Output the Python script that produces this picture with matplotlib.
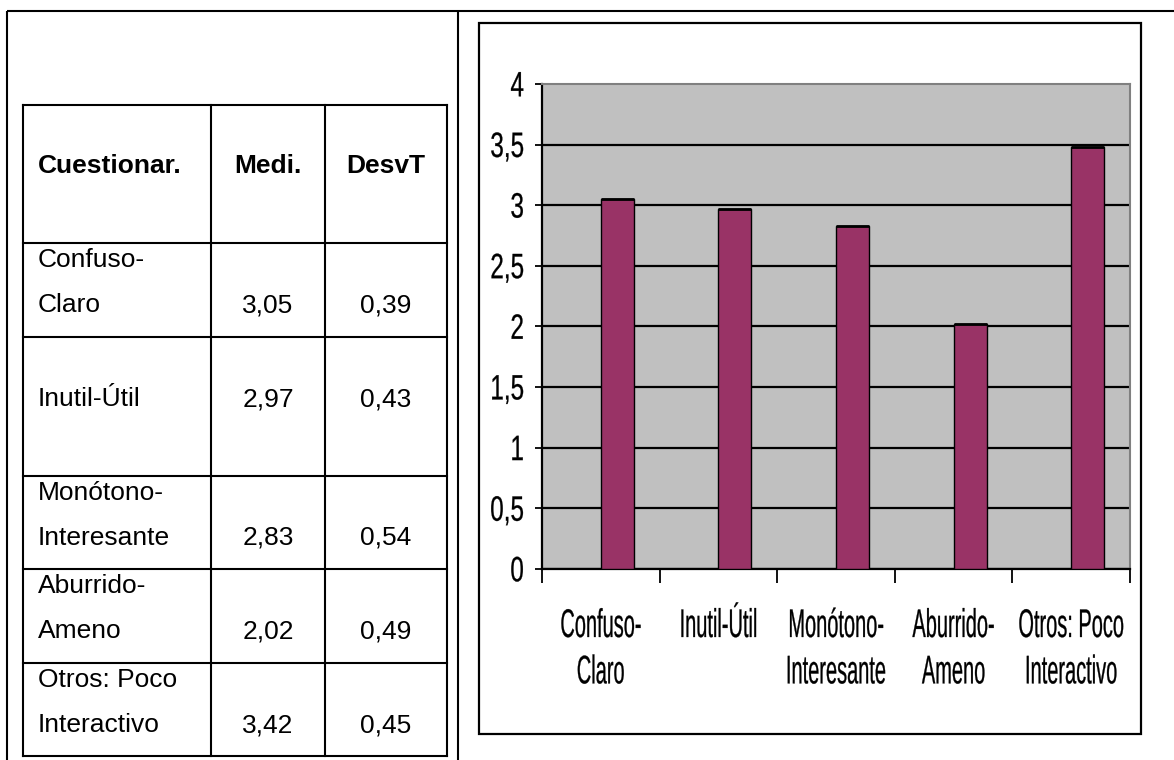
import matplotlib
matplotlib.use("Agg")
import matplotlib.pyplot as plt
from matplotlib.patheffects import AbstractPathEffect
from matplotlib.transforms import Affine2D, ScaledTranslation
from matplotlib.patches import Rectangle

# ---------------- data ----------------
table_header = ["Cuestionar.", "Medi.", "DesvT"]
table_items = ["Confuso-\nClaro", "Inutil-Útil", "Monótono-\nInteresante",
               "Aburrido-\nAmeno", "Otros: Poco\nInteractivo"]
table_means = [3.05, 2.97, 2.83, 2.02, 3.42]
table_sd = [0.39, 0.43, 0.54, 0.49, 0.45]

chart_categories = ["Confuso-\nClaro", "Inutil-Útil", "Monótono-\nInteresante",
                    "Aburrido-\nAmeno", "Otros: Poco\nInteractivo"]
chart_values = [3.05, 2.97, 2.83, 2.02, 3.48]
y_ticks = [0, 0.5, 1, 1.5, 2, 2.5, 3, 3.5, 4]
y_tick_labels = ["0", "0,5", "1", "1,5", "2", "2,5", "3", "3,5", "4"]

W, H = 1174, 760
BAR = "#993366"
PLOT_BG = "#C0C0C0"

NARROW = ["Liberation Sans Narrow", "Liberation Sans", "DejaVu Sans"]
ARIAL = ["Liberation Sans", "DejaVu Sans"]


class VStretch(AbstractPathEffect):
    """Stretch the glyphs of a text vertically about its anchor (with a light stroke)."""
    def __init__(self, text, sy, stroke=0.0):
        super().__init__()
        self.text = text
        self.sy = sy
        self.stroke = stroke

    def draw_path(self, renderer, gc, tpath, affine, rgbFace=None):
        x0, y0 = self.text.get_transform().transform(self.text.get_position())
        st = Affine2D().translate(-x0, -y0).scale(1.0, self.sy).translate(x0, y0)
        gc0 = renderer.new_gc()
        gc0.copy_properties(gc)
        if self.stroke > 0:
            gc0.set_linewidth(self.stroke)
            gc0.set_foreground(rgbFace if rgbFace is not None else "black")
        renderer.draw_path(gc0, tpath, affine + st, rgbFace)
        gc0.restore()


fig = plt.figure(figsize=(W / 100, H / 100), dpi=100)

# ---------------- page / table layer ----------------
bg = fig.add_axes([0, 0, 1, 1], zorder=0)
bg.set_xlim(0, W)
bg.set_ylim(H, 0)
bg.axis("off")

LW = 1.5
# outer frame
bg.plot([7, W], [11, 11], color="black", lw=LW, solid_capstyle="butt")
bg.plot([7, 7], [11, H], color="black", lw=LW, solid_capstyle="butt")
bg.plot([458, 458], [11, H], color="black", lw=LW, solid_capstyle="butt")

# table grid
col_x = [23, 211, 325, 447]
row_y = [105, 243, 337, 476, 569, 663, 756]
for yy in row_y:
    bg.plot([col_x[0], col_x[-1]], [yy, yy], color="black", lw=LW, solid_capstyle="projecting")
for xx in col_x:
    bg.plot([xx, xx], [row_y[0], row_y[-1]], color="black", lw=LW, solid_capstyle="projecting")

FS = 19
hy = (row_y[0] + row_y[1]) / 2 - 8
bg.text(38, hy, table_header[0], fontsize=FS, fontweight="bold", family=ARIAL, va="center", ha="left")
bg.text((col_x[1] + col_x[2]) / 2, hy, table_header[1], fontsize=FS, fontweight="bold", family=ARIAL, va="center", ha="center")
bg.text((col_x[2] + col_x[3]) / 2, hy, table_header[2], fontsize=FS, fontweight="bold", family=ARIAL, va="center", ha="center")

for i, (item, m, s) in enumerate(zip(table_items, table_means, table_sd)):
    top = row_y[i + 1]
    lines = item.split("\n")
    y_last = top + 62
    if len(lines) == 2:
        bg.text(38, top + 17, lines[0], fontsize=FS, family=ARIAL, va="center", ha="left")
    bg.text(38, y_last, lines[-1], fontsize=FS, family=ARIAL, va="center", ha="left")
    bg.text((col_x[1] + col_x[2]) / 2, y_last, f"{m:.2f}".replace(".", ","), fontsize=FS,
            family=ARIAL, va="center", ha="center")
    bg.text((col_x[2] + col_x[3]) / 2, y_last, f"{s:.2f}".replace(".", ","), fontsize=FS,
            family=ARIAL, va="center", ha="center")

# chart box
bg.add_patch(Rectangle((479, 23), 1141 - 479, 734 - 23, fill=False, edgecolor="black", lw=1.6))

# ---------------- bar chart ----------------
px0, px1, py0, py1 = 542, 1130, 84, 569
ax = fig.add_axes([px0 / W, (H - py1) / H, (px1 - px0) / W, (py1 - py0) / H], zorder=2)
ax.set_facecolor(PLOT_BG)
x = list(range(len(chart_values)))
BW = 0.28
ax.bar(x, chart_values, width=BW, align="edge", color=BAR, edgecolor="black", linewidth=1.0, zorder=3)
ax.hlines(chart_values, x, [xi + BW for xi in x], colors="black", lw=2.0, zorder=4)
ax.set_xlim(-0.5, len(chart_values) - 0.5)
ax.set_ylim(0, 4)

ax.set_yticks(y_ticks)
ylabels = ax.set_yticklabels(y_tick_labels, fontsize=17.5, family=NARROW)
for t in ylabels:
    t.set_path_effects([VStretch(t, 1.45, stroke=0.2)])
ax.tick_params(axis="y", length=5, width=1.3, pad=8, color="black")
ax.yaxis.grid(True, color="black", lw=1.6, zorder=1)
ax.get_ygridlines()[-1].set_visible(False)
ax.set_axisbelow(True)

ax.set_xticks([i - 0.5 for i in range(len(chart_values) + 1)])
ax.set_xticklabels([])
ax.tick_params(axis="x", length=10, width=1.3, color="black")

off = ax.get_xaxis_transform() + ScaledTranslation(0, -38 / 100, fig.dpi_scale_trans)
for i, lab in enumerate(chart_categories):
    t = ax.text(i, 0, lab, transform=off, ha="center", va="top", fontsize=14.4,
                family=NARROW, linespacing=1.28, multialignment="center")
    t.set_path_effects([VStretch(t, 2.0, stroke=0.2)])

for side in ("left", "bottom"):
    ax.spines[side].set_color("black")
    ax.spines[side].set_linewidth(1.6)
for side in ("top", "right"):
    ax.spines[side].set_color("#808080")
    ax.spines[side].set_linewidth(1.5)

fig.savefig("out.png", dpi=100)
